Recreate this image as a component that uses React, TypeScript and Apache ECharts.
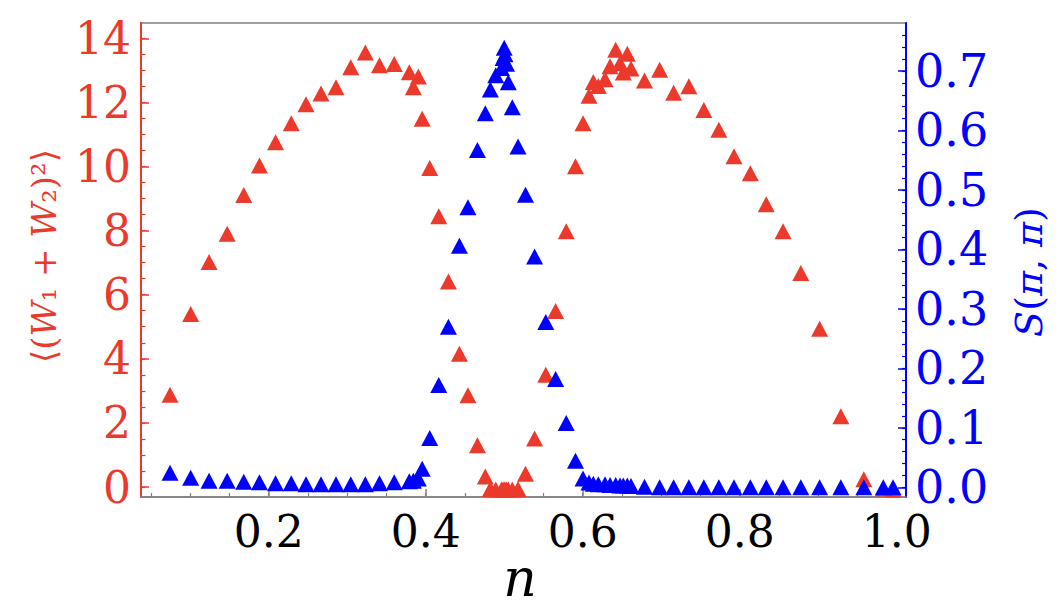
import React, { useEffect, useRef } from "react";
import * as echarts from "echarts";

// filling n (x axis)
const nValues = [
  0.0743, 0.1006, 0.124, 0.1471, 0.1682, 0.1882, 0.2087, 0.2287, 0.2475, 0.2666,
  0.2857, 0.3045, 0.3231, 0.3411, 0.3599, 0.3791, 0.3842, 0.3906, 0.3955, 0.4051,
  0.4166, 0.4289, 0.4429, 0.4538, 0.4659, 0.4759, 0.4823, 0.4892, 0.4965, 0.4985,
  0.5, 0.501, 0.503, 0.5052, 0.5103, 0.5176, 0.5271, 0.5387, 0.5529, 0.5655,
  0.579, 0.5908, 0.6004, 0.608, 0.6135, 0.6199, 0.6284, 0.6348, 0.642, 0.6475,
  0.6517, 0.6568, 0.6615, 0.6787, 0.698, 0.7158, 0.7352, 0.7543, 0.7734, 0.7927,
  0.8135, 0.8338, 0.8552, 0.8778, 0.9018, 0.9288, 0.9581, 0.9829, 0.9953,
];

// <(W1+W2)^2> (left axis, red)
const wValues = [
  2.88, 5.4, 7.02, 7.9, 9.11, 10.03, 10.76, 11.35, 11.94, 12.28,
  12.47, 13.1, 13.56, 13.16, 13.2, 12.94, 12.47, 12.81, 11.49, 9.95,
  8.45, 6.41, 4.16, 2.86, 1.3, 0.33, -0.06, -0.08, -0.08, -0.08,
  -0.08, -0.08, -0.08, -0.08, -0.08, -0.06, 0.41, 1.51, 3.5, 5.49,
  7.98, 10.01, 11.35, 12.21, 12.64, 12.51, 12.72, 13.13, 13.64, 13.22,
  12.93, 13.52, 13.06, 12.68, 13.02, 12.3, 12.5, 11.76, 11.15, 10.32,
  9.79, 8.82, 7.98, 6.68, 4.94, 2.21, 0.24, -0.05, -0.08,
];

// S(pi,pi) (right axis, blue)
const sValues = [
  0.0246, 0.0162, 0.011, 0.011, 0.0094, 0.0086, 0.007, 0.007, 0.005, 0.005,
  0.005, 0.005, 0.005, 0.007, 0.0086, 0.01, 0.011, 0.015, 0.031, 0.083,
  0.172, 0.27, 0.406, 0.471, 0.567, 0.629, 0.669, 0.693, 0.705, 0.722,
  0.739, 0.728, 0.712, 0.681, 0.639, 0.573, 0.492, 0.388, 0.278, 0.182,
  0.108, 0.0446, 0.015, 0.008, 0.006, 0.005, 0.005, 0.004, 0.004, 0.003,
  0.003, 0.003, 0.002, 0.001, 0, 0, 0, 0, 0, 0,
  0, 0, 0, 0, 0, 0, 0, 0, 0,
];

const xMajorTicks = [0.2, 0.4, 0.6, 0.8, 1.0];
const xMinorTicks = [
  0.05, 0.1, 0.15, 0.2, 0.25, 0.3, 0.35, 0.4, 0.45, 0.5,
  0.55, 0.6, 0.65, 0.7, 0.75, 0.8, 0.85, 0.9, 0.95, 1.0,
];
const leftMajorTicks = [0, 2, 4, 6, 8, 10, 12, 14];
const leftMinorTicks = [
  0, 0.5, 1, 1.5, 2, 2.5, 3, 3.5, 4, 4.5, 5, 5.5, 6, 6.5, 7, 7.5,
  8, 8.5, 9, 9.5, 10, 10.5, 11, 11.5, 12, 12.5, 13, 13.5, 14,
];
const rightMajorTicks = [0, 0.1, 0.2, 0.3, 0.4, 0.5, 0.6, 0.7];
const rightMinorTicks = [
  0, 0.02, 0.04, 0.06, 0.08, 0.1, 0.12, 0.14, 0.16, 0.18,
  0.2, 0.22, 0.24, 0.26, 0.28, 0.3, 0.32, 0.34, 0.36, 0.38,
  0.4, 0.42, 0.44, 0.46, 0.48, 0.5, 0.52, 0.54, 0.56, 0.58,
  0.6, 0.62, 0.64, 0.66, 0.68, 0.7, 0.72, 0.74, 0.76,
];

const RED = "#EB3A2B";
const BLUE = "#0000FF";
const FRAME = "#808080";
const SERIF = "DejaVu Serif";

const X_MIN = 0.0373;
const X_MAX = 1.0118;
const L_MIN = -0.312;
const L_MAX = 14.477;
const R_MIN = -0.0163;
const R_MAX = 0.7807;

export default function App() {
  const ref = useRef<HTMLDivElement>(null);

  useEffect(() => {
    if (!ref.current) return;
    const chart = echarts.init(ref.current, undefined, { renderer: "svg" });

    const redData = nValues.map((n, i) => [n, wValues[i]]);
    const blueData = nValues.map((n, i) => [n, sValues[i]]);

    const xBase = {
      type: "value",
      min: X_MIN,
      max: X_MAX,
      position: "bottom",
      splitLine: { show: false },
    };

    const option: any = {
      animation: false,
      backgroundColor: "#ffffff",
      textStyle: { fontFamily: SERIF },
      grid: {
        left: 141,
        right: 158,
        top: 23,
        bottom: 119,
        show: true,
        borderColor: FRAME,
        borderWidth: 1.5,
        backgroundColor: "transparent",
        containLabel: false,
      },
      xAxis: [
        {
          ...xBase,
          axisLine: { show: true, onZero: false, lineStyle: { color: FRAME, width: 1.5 } },
          axisTick: {
            show: true,
            inside: true,
            length: 8,
            customValues: xMajorTicks,
            lineStyle: { color: FRAME, width: 1.5 },
          },
          axisLabel: {
            show: true,
            customValues: xMajorTicks,
            formatter: (v: number) => v.toFixed(1),
            color: "#000",
            fontFamily: SERIF,
            fontSize: 44,
            margin: 12,
          },
        },
        {
          ...xBase,
          axisLine: { show: false, onZero: false },
          axisTick: {
            show: true,
            inside: true,
            length: 4,
            customValues: xMinorTicks,
            lineStyle: { color: FRAME, width: 1.2 },
          },
          axisLabel: { show: false },
        },
      ],
      yAxis: [
        {
          type: "value",
          min: L_MIN,
          max: L_MAX,
          position: "left",
          splitLine: { show: false },
          axisLine: { show: true, onZero: false, lineStyle: { color: RED, width: 2 } },
          axisTick: {
            show: true,
            inside: true,
            length: 8,
            customValues: leftMajorTicks,
            lineStyle: { color: RED, width: 1.5 },
          },
          axisLabel: {
            show: true,
            customValues: leftMajorTicks,
            formatter: (v: number) => String(Math.round(v)),
            color: RED,
            fontFamily: SERIF,
            fontSize: 44,
            margin: 10,
          },
        },
        {
          type: "value",
          min: L_MIN,
          max: L_MAX,
          position: "left",
          splitLine: { show: false },
          axisLine: { show: false, onZero: false },
          axisTick: {
            show: true,
            inside: true,
            length: 4.5,
            customValues: leftMinorTicks,
            lineStyle: { color: RED, width: 1.2 },
          },
          axisLabel: { show: false },
        },
        {
          type: "value",
          min: R_MIN,
          max: R_MAX,
          position: "right",
          splitLine: { show: false },
          axisLine: { show: true, onZero: false, lineStyle: { color: BLUE, width: 2 } },
          axisTick: {
            show: true,
            inside: true,
            length: 8,
            customValues: rightMajorTicks,
            lineStyle: { color: BLUE, width: 1.5 },
          },
          axisLabel: {
            show: true,
            customValues: rightMajorTicks,
            formatter: (v: number) => v.toFixed(1),
            color: BLUE,
            fontFamily: SERIF,
            fontSize: 46,
            margin: 9,
          },
        },
        {
          type: "value",
          min: R_MIN,
          max: R_MAX,
          position: "right",
          splitLine: { show: false },
          axisLine: { show: false, onZero: false },
          axisTick: {
            show: true,
            inside: true,
            length: 4,
            customValues: rightMinorTicks,
            lineStyle: { color: BLUE, width: 1.2 },
          },
          axisLabel: { show: false },
        },
      ],
      series: [
        {
          type: "scatter",
          name: "W",
          xAxisIndex: 0,
          yAxisIndex: 0,
          data: redData,
          symbol: "triangle",
          symbolSize: [17, 16],
          itemStyle: { color: RED, opacity: 1 },
          clip: false,
          z: 3,
        },
        {
          type: "scatter",
          name: "S",
          xAxisIndex: 0,
          yAxisIndex: 2,
          data: blueData,
          symbol: "triangle",
          symbolSize: [17, 16],
          itemStyle: { color: BLUE, opacity: 1 },
          clip: false,
          z: 4,
        },
      ],
      graphic: [
        {
          type: "text",
          x: 44,
          y: 256,
          rotation: Math.PI / 2,
          z: 10,
          style: {
            text: "{a|⟨(}{i|W}{a|₁ + }{i|W}{a|₂)²⟩}",
            fill: RED,
            align: "center",
            verticalAlign: "middle",
            textAlign: "center",
            textVerticalAlign: "middle",
            rich: {
              a: { fontFamily: SERIF, fontSize: 34, fill: RED },
              i: { fontFamily: SERIF, fontSize: 34, fontStyle: "italic", fill: RED },
            },
          },
        },
        {
          type: "text",
          x: 1029,
          y: 272,
          rotation: Math.PI / 2,
          z: 10,
          style: {
            text: "{i|S}{a|(}{i|π}{a|, }{i|π}{a|)}",
            fill: BLUE,
            align: "center",
            verticalAlign: "middle",
            textAlign: "center",
            textVerticalAlign: "middle",
            rich: {
              a: { fontFamily: SERIF, fontSize: 38, fill: BLUE },
              i: { fontFamily: SERIF, fontSize: 38, fontStyle: "italic", fill: BLUE },
            },
          },
        },
        {
          type: "text",
          x: 520,
          y: 578,
          z: 10,
          style: {
            text: "n",
            fill: "#000",
            fontFamily: SERIF,
            fontSize: 52,
            fontStyle: "italic",
            align: "center",
            verticalAlign: "middle",
            textAlign: "center",
            textVerticalAlign: "middle",
          },
        },
      ],
    };

    chart.setOption(option);
    return () => {
      chart.dispose();
    };
  }, []);

  return (
    <div
      ref={ref}
      style={{ position: "fixed", left: 0, top: 0, width: 1064, height: 616, background: "#fff" }}
    />
  );
}
